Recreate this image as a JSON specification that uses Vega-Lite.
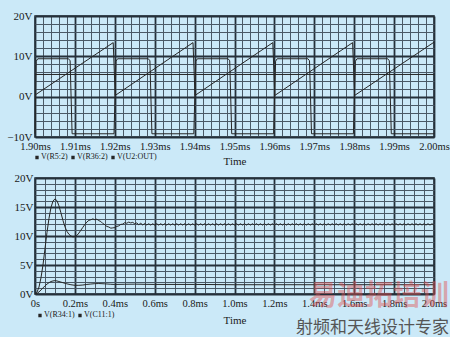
{
  "$schema": "https://vega.github.io/schema/vega-lite/v6.json",
  "background": "#cbe9f8",
  "padding": {"left": 6, "top": 9, "right": 0, "bottom": 0},
  "title": {"text": "易迪拓培训", "subtitle": "射频和天线设计专家", "orient": "bottom", "anchor": "end", "font": "Noto Sans CJK SC", "fontSize": 28, "fontWeight": "bold", "color": "rgba(225,80,80,0.45)", "subtitleFont": "Noto Sans CJK SC", "subtitleFontSize": 17, "subtitleColor": "#555555", "subtitlePadding": 9, "offset": -43, "dx": -1},
  "datasets": {
    "top": [
      {"t": 1.9, "v": 5.5, "s": "V(R5:2)"},
      {"t": 2.0, "v": 5.5, "s": "V(R5:2)"},
      {"t": 1.9, "v": 0.4, "s": "V(R36:2)"},
      {"t": 1.9196, "v": 13.4, "s": "V(R36:2)"},
      {"t": 1.9201, "v": 0.3, "s": "V(R36:2)"},
      {"t": 1.9396, "v": 13.4, "s": "V(R36:2)"},
      {"t": 1.9401, "v": 0.3, "s": "V(R36:2)"},
      {"t": 1.9596, "v": 13.4, "s": "V(R36:2)"},
      {"t": 1.9601, "v": 0.3, "s": "V(R36:2)"},
      {"t": 1.9796, "v": 13.4, "s": "V(R36:2)"},
      {"t": 1.9801, "v": 0.3, "s": "V(R36:2)"},
      {"t": 2.0, "v": 13.5, "s": "V(R36:2)"},
      {"t": 1.9, "v": -9.2, "s": "V(U2:OUT)"},
      {"t": 1.9003, "v": 8.8, "s": "V(U2:OUT)"},
      {"t": 1.9007, "v": 9.4, "s": "V(U2:OUT)"},
      {"t": 1.9084, "v": 9.4, "s": "V(U2:OUT)"},
      {"t": 1.9088, "v": 8.9, "s": "V(U2:OUT)"},
      {"t": 1.9093, "v": -9.2, "s": "V(U2:OUT)"},
      {"t": 1.9198, "v": -9.2, "s": "V(U2:OUT)"},
      {"t": 1.9203, "v": 8.8, "s": "V(U2:OUT)"},
      {"t": 1.9207, "v": 9.4, "s": "V(U2:OUT)"},
      {"t": 1.9284, "v": 9.4, "s": "V(U2:OUT)"},
      {"t": 1.9288, "v": 8.9, "s": "V(U2:OUT)"},
      {"t": 1.9293, "v": -9.2, "s": "V(U2:OUT)"},
      {"t": 1.9398, "v": -9.2, "s": "V(U2:OUT)"},
      {"t": 1.9403, "v": 8.8, "s": "V(U2:OUT)"},
      {"t": 1.9407, "v": 9.4, "s": "V(U2:OUT)"},
      {"t": 1.9484, "v": 9.4, "s": "V(U2:OUT)"},
      {"t": 1.9488, "v": 8.9, "s": "V(U2:OUT)"},
      {"t": 1.9493, "v": -9.2, "s": "V(U2:OUT)"},
      {"t": 1.9598, "v": -9.2, "s": "V(U2:OUT)"},
      {"t": 1.9603, "v": 8.8, "s": "V(U2:OUT)"},
      {"t": 1.9607, "v": 9.4, "s": "V(U2:OUT)"},
      {"t": 1.9684, "v": 9.4, "s": "V(U2:OUT)"},
      {"t": 1.9688, "v": 8.9, "s": "V(U2:OUT)"},
      {"t": 1.9693, "v": -9.2, "s": "V(U2:OUT)"},
      {"t": 1.9798, "v": -9.2, "s": "V(U2:OUT)"},
      {"t": 1.9803, "v": 8.8, "s": "V(U2:OUT)"},
      {"t": 1.9807, "v": 9.4, "s": "V(U2:OUT)"},
      {"t": 1.9884, "v": 9.4, "s": "V(U2:OUT)"},
      {"t": 1.9888, "v": 8.9, "s": "V(U2:OUT)"},
      {"t": 1.9893, "v": -9.2, "s": "V(U2:OUT)"},
      {"t": 2.0, "v": -9.2, "s": "V(U2:OUT)"}
    ],
    "bottom": [
      {"t": 0, "v": 0, "s": "V(R34:1)"},
      {"t": 0.01, "v": 0.3, "s": "V(R34:1)"},
      {"t": 0.02, "v": 1.2, "s": "V(R34:1)"},
      {"t": 0.03, "v": 2.8, "s": "V(R34:1)"},
      {"t": 0.04, "v": 5.0, "s": "V(R34:1)"},
      {"t": 0.05, "v": 7.8, "s": "V(R34:1)"},
      {"t": 0.06, "v": 10.6, "s": "V(R34:1)"},
      {"t": 0.07, "v": 13.0, "s": "V(R34:1)"},
      {"t": 0.08, "v": 14.9, "s": "V(R34:1)"},
      {"t": 0.09, "v": 16.0, "s": "V(R34:1)"},
      {"t": 0.1, "v": 16.4, "s": "V(R34:1)"},
      {"t": 0.11, "v": 16.1, "s": "V(R34:1)"},
      {"t": 0.12, "v": 15.2, "s": "V(R34:1)"},
      {"t": 0.13, "v": 14.0, "s": "V(R34:1)"},
      {"t": 0.14, "v": 12.7, "s": "V(R34:1)"},
      {"t": 0.15, "v": 11.6, "s": "V(R34:1)"},
      {"t": 0.16, "v": 10.8, "s": "V(R34:1)"},
      {"t": 0.17, "v": 10.3, "s": "V(R34:1)"},
      {"t": 0.18, "v": 10.0, "s": "V(R34:1)"},
      {"t": 0.19, "v": 9.85, "s": "V(R34:1)"},
      {"t": 0.2, "v": 9.9, "s": "V(R34:1)"},
      {"t": 0.21, "v": 10.1, "s": "V(R34:1)"},
      {"t": 0.22, "v": 10.5, "s": "V(R34:1)"},
      {"t": 0.23, "v": 11.0, "s": "V(R34:1)"},
      {"t": 0.24, "v": 11.5, "s": "V(R34:1)"},
      {"t": 0.25, "v": 12.0, "s": "V(R34:1)"},
      {"t": 0.26, "v": 12.4, "s": "V(R34:1)"},
      {"t": 0.27, "v": 12.7, "s": "V(R34:1)"},
      {"t": 0.28, "v": 12.8, "s": "V(R34:1)"},
      {"t": 0.29, "v": 12.95, "s": "V(R34:1)"},
      {"t": 0.3, "v": 12.8, "s": "V(R34:1)"},
      {"t": 0.31, "v": 12.9, "s": "V(R34:1)"},
      {"t": 0.32, "v": 12.65, "s": "V(R34:1)"},
      {"t": 0.33, "v": 12.5, "s": "V(R34:1)"},
      {"t": 0.34, "v": 12.15, "s": "V(R34:1)"},
      {"t": 0.35, "v": 11.95, "s": "V(R34:1)"},
      {"t": 0.36, "v": 11.65, "s": "V(R34:1)"},
      {"t": 0.37, "v": 11.55, "s": "V(R34:1)"},
      {"t": 0.38, "v": 11.35, "s": "V(R34:1)"},
      {"t": 0.39, "v": 11.4, "s": "V(R34:1)"},
      {"t": 0.4, "v": 11.45, "s": "V(R34:1)"},
      {"t": 0.41, "v": 11.65, "s": "V(R34:1)"},
      {"t": 0.42, "v": 11.75, "s": "V(R34:1)"},
      {"t": 0.43, "v": 12.0, "s": "V(R34:1)"},
      {"t": 0.44, "v": 12.05, "s": "V(R34:1)"},
      {"t": 0.45, "v": 12.3, "s": "V(R34:1)"},
      {"t": 0.46, "v": 12.2, "s": "V(R34:1)"},
      {"t": 0.47, "v": 12.4, "s": "V(R34:1)"},
      {"t": 0.48, "v": 12.25, "s": "V(R34:1)"},
      {"t": 0.49, "v": 12.35, "s": "V(R34:1)"},
      {"t": 0.5, "v": 12.1, "s": "V(R34:1)"},
      {"t": 0.51, "v": 12.25, "s": "V(R34:1)"},
      {"t": 0.52, "v": 11.95, "s": "V(R34:1)"},
      {"t": 0.53, "v": 12.2, "s": "V(R34:1)"},
      {"t": 0.54, "v": 11.9, "s": "V(R34:1)"},
      {"t": 0.55, "v": 12.15, "s": "V(R34:1)"},
      {"t": 0.56, "v": 11.9, "s": "V(R34:1)"},
      {"t": 0.57, "v": 12.12, "s": "V(R34:1)"},
      {"t": 0.58, "v": 11.88, "s": "V(R34:1)"},
      {"t": 0.59, "v": 12.12, "s": "V(R34:1)"},
      {"t": 0.6, "v": 11.88, "s": "V(R34:1)"},
      {"t": 0.61, "v": 12.12, "s": "V(R34:1)"},
      {"t": 0.62, "v": 11.88, "s": "V(R34:1)"},
      {"t": 0.63, "v": 12.12, "s": "V(R34:1)"},
      {"t": 0.64, "v": 11.88, "s": "V(R34:1)"},
      {"t": 0.65, "v": 12.12, "s": "V(R34:1)"},
      {"t": 0.66, "v": 11.88, "s": "V(R34:1)"},
      {"t": 0.67, "v": 12.12, "s": "V(R34:1)"},
      {"t": 0.68, "v": 11.88, "s": "V(R34:1)"},
      {"t": 0.69, "v": 12.12, "s": "V(R34:1)"},
      {"t": 0.7, "v": 11.88, "s": "V(R34:1)"},
      {"t": 0.71, "v": 12.12, "s": "V(R34:1)"},
      {"t": 0.72, "v": 11.88, "s": "V(R34:1)"},
      {"t": 0.73, "v": 12.12, "s": "V(R34:1)"},
      {"t": 0.74, "v": 11.88, "s": "V(R34:1)"},
      {"t": 0.75, "v": 12.12, "s": "V(R34:1)"},
      {"t": 0.76, "v": 11.88, "s": "V(R34:1)"},
      {"t": 0.77, "v": 12.12, "s": "V(R34:1)"},
      {"t": 0.78, "v": 11.88, "s": "V(R34:1)"},
      {"t": 0.79, "v": 12.12, "s": "V(R34:1)"},
      {"t": 0.8, "v": 11.88, "s": "V(R34:1)"},
      {"t": 0.81, "v": 12.12, "s": "V(R34:1)"},
      {"t": 0.82, "v": 11.88, "s": "V(R34:1)"},
      {"t": 0.83, "v": 12.12, "s": "V(R34:1)"},
      {"t": 0.84, "v": 11.88, "s": "V(R34:1)"},
      {"t": 0.85, "v": 12.12, "s": "V(R34:1)"},
      {"t": 0.86, "v": 11.88, "s": "V(R34:1)"},
      {"t": 0.87, "v": 12.12, "s": "V(R34:1)"},
      {"t": 0.88, "v": 11.88, "s": "V(R34:1)"},
      {"t": 0.89, "v": 12.12, "s": "V(R34:1)"},
      {"t": 0.9, "v": 11.88, "s": "V(R34:1)"},
      {"t": 0.91, "v": 12.12, "s": "V(R34:1)"},
      {"t": 0.92, "v": 11.88, "s": "V(R34:1)"},
      {"t": 0.93, "v": 12.12, "s": "V(R34:1)"},
      {"t": 0.94, "v": 11.88, "s": "V(R34:1)"},
      {"t": 0.95, "v": 12.12, "s": "V(R34:1)"},
      {"t": 0.96, "v": 11.88, "s": "V(R34:1)"},
      {"t": 0.97, "v": 12.12, "s": "V(R34:1)"},
      {"t": 0.98, "v": 11.88, "s": "V(R34:1)"},
      {"t": 0.99, "v": 12.12, "s": "V(R34:1)"},
      {"t": 1.0, "v": 11.88, "s": "V(R34:1)"},
      {"t": 1.01, "v": 12.12, "s": "V(R34:1)"},
      {"t": 1.02, "v": 11.88, "s": "V(R34:1)"},
      {"t": 1.03, "v": 12.12, "s": "V(R34:1)"},
      {"t": 1.04, "v": 11.88, "s": "V(R34:1)"},
      {"t": 1.05, "v": 12.12, "s": "V(R34:1)"},
      {"t": 1.06, "v": 11.88, "s": "V(R34:1)"},
      {"t": 1.07, "v": 12.12, "s": "V(R34:1)"},
      {"t": 1.08, "v": 11.88, "s": "V(R34:1)"},
      {"t": 1.09, "v": 12.12, "s": "V(R34:1)"},
      {"t": 1.1, "v": 11.88, "s": "V(R34:1)"},
      {"t": 1.11, "v": 12.12, "s": "V(R34:1)"},
      {"t": 1.12, "v": 11.88, "s": "V(R34:1)"},
      {"t": 1.13, "v": 12.12, "s": "V(R34:1)"},
      {"t": 1.14, "v": 11.88, "s": "V(R34:1)"},
      {"t": 1.15, "v": 12.12, "s": "V(R34:1)"},
      {"t": 1.16, "v": 11.88, "s": "V(R34:1)"},
      {"t": 1.17, "v": 12.12, "s": "V(R34:1)"},
      {"t": 1.18, "v": 11.88, "s": "V(R34:1)"},
      {"t": 1.19, "v": 12.12, "s": "V(R34:1)"},
      {"t": 1.2, "v": 11.88, "s": "V(R34:1)"},
      {"t": 1.21, "v": 12.12, "s": "V(R34:1)"},
      {"t": 1.22, "v": 11.88, "s": "V(R34:1)"},
      {"t": 1.23, "v": 12.12, "s": "V(R34:1)"},
      {"t": 1.24, "v": 11.88, "s": "V(R34:1)"},
      {"t": 1.25, "v": 12.12, "s": "V(R34:1)"},
      {"t": 1.26, "v": 11.88, "s": "V(R34:1)"},
      {"t": 1.27, "v": 12.12, "s": "V(R34:1)"},
      {"t": 1.28, "v": 11.88, "s": "V(R34:1)"},
      {"t": 1.29, "v": 12.12, "s": "V(R34:1)"},
      {"t": 1.3, "v": 11.88, "s": "V(R34:1)"},
      {"t": 1.31, "v": 12.12, "s": "V(R34:1)"},
      {"t": 1.32, "v": 11.88, "s": "V(R34:1)"},
      {"t": 1.33, "v": 12.12, "s": "V(R34:1)"},
      {"t": 1.34, "v": 11.88, "s": "V(R34:1)"},
      {"t": 1.35, "v": 12.12, "s": "V(R34:1)"},
      {"t": 1.36, "v": 11.88, "s": "V(R34:1)"},
      {"t": 1.37, "v": 12.12, "s": "V(R34:1)"},
      {"t": 1.38, "v": 11.88, "s": "V(R34:1)"},
      {"t": 1.39, "v": 12.12, "s": "V(R34:1)"},
      {"t": 1.4, "v": 11.88, "s": "V(R34:1)"},
      {"t": 1.41, "v": 12.12, "s": "V(R34:1)"},
      {"t": 1.42, "v": 11.88, "s": "V(R34:1)"},
      {"t": 1.43, "v": 12.12, "s": "V(R34:1)"},
      {"t": 1.44, "v": 11.88, "s": "V(R34:1)"},
      {"t": 1.45, "v": 12.12, "s": "V(R34:1)"},
      {"t": 1.46, "v": 11.88, "s": "V(R34:1)"},
      {"t": 1.47, "v": 12.12, "s": "V(R34:1)"},
      {"t": 1.48, "v": 11.88, "s": "V(R34:1)"},
      {"t": 1.49, "v": 12.12, "s": "V(R34:1)"},
      {"t": 1.5, "v": 11.88, "s": "V(R34:1)"},
      {"t": 1.51, "v": 12.12, "s": "V(R34:1)"},
      {"t": 1.52, "v": 11.88, "s": "V(R34:1)"},
      {"t": 1.53, "v": 12.12, "s": "V(R34:1)"},
      {"t": 1.54, "v": 11.88, "s": "V(R34:1)"},
      {"t": 1.55, "v": 12.12, "s": "V(R34:1)"},
      {"t": 1.56, "v": 11.88, "s": "V(R34:1)"},
      {"t": 1.57, "v": 12.12, "s": "V(R34:1)"},
      {"t": 1.58, "v": 11.88, "s": "V(R34:1)"},
      {"t": 1.59, "v": 12.12, "s": "V(R34:1)"},
      {"t": 1.6, "v": 11.88, "s": "V(R34:1)"},
      {"t": 1.61, "v": 12.12, "s": "V(R34:1)"},
      {"t": 1.62, "v": 11.88, "s": "V(R34:1)"},
      {"t": 1.63, "v": 12.12, "s": "V(R34:1)"},
      {"t": 1.64, "v": 11.88, "s": "V(R34:1)"},
      {"t": 1.65, "v": 12.12, "s": "V(R34:1)"},
      {"t": 1.66, "v": 11.88, "s": "V(R34:1)"},
      {"t": 1.67, "v": 12.12, "s": "V(R34:1)"},
      {"t": 1.68, "v": 11.88, "s": "V(R34:1)"},
      {"t": 1.69, "v": 12.12, "s": "V(R34:1)"},
      {"t": 1.7, "v": 11.88, "s": "V(R34:1)"},
      {"t": 1.71, "v": 12.12, "s": "V(R34:1)"},
      {"t": 1.72, "v": 11.88, "s": "V(R34:1)"},
      {"t": 1.73, "v": 12.12, "s": "V(R34:1)"},
      {"t": 1.74, "v": 11.88, "s": "V(R34:1)"},
      {"t": 1.75, "v": 12.12, "s": "V(R34:1)"},
      {"t": 1.76, "v": 11.88, "s": "V(R34:1)"},
      {"t": 1.77, "v": 12.12, "s": "V(R34:1)"},
      {"t": 1.78, "v": 11.88, "s": "V(R34:1)"},
      {"t": 1.79, "v": 12.12, "s": "V(R34:1)"},
      {"t": 1.8, "v": 11.88, "s": "V(R34:1)"},
      {"t": 1.81, "v": 12.12, "s": "V(R34:1)"},
      {"t": 1.82, "v": 11.88, "s": "V(R34:1)"},
      {"t": 1.83, "v": 12.12, "s": "V(R34:1)"},
      {"t": 1.84, "v": 11.88, "s": "V(R34:1)"},
      {"t": 1.85, "v": 12.12, "s": "V(R34:1)"},
      {"t": 1.86, "v": 11.88, "s": "V(R34:1)"},
      {"t": 1.87, "v": 12.12, "s": "V(R34:1)"},
      {"t": 1.88, "v": 11.88, "s": "V(R34:1)"},
      {"t": 1.89, "v": 12.12, "s": "V(R34:1)"},
      {"t": 1.9, "v": 11.88, "s": "V(R34:1)"},
      {"t": 1.91, "v": 12.12, "s": "V(R34:1)"},
      {"t": 1.92, "v": 11.88, "s": "V(R34:1)"},
      {"t": 1.93, "v": 12.12, "s": "V(R34:1)"},
      {"t": 1.94, "v": 11.88, "s": "V(R34:1)"},
      {"t": 1.95, "v": 12.12, "s": "V(R34:1)"},
      {"t": 1.96, "v": 11.88, "s": "V(R34:1)"},
      {"t": 1.97, "v": 12.12, "s": "V(R34:1)"},
      {"t": 1.98, "v": 11.88, "s": "V(R34:1)"},
      {"t": 1.99, "v": 12.12, "s": "V(R34:1)"},
      {"t": 2.0, "v": 11.88, "s": "V(R34:1)"},
      {"t": 0, "v": 0, "s": "V(C11:1)"},
      {"t": 0.01, "v": 0.1, "s": "V(C11:1)"},
      {"t": 0.02, "v": 0.35, "s": "V(C11:1)"},
      {"t": 0.03, "v": 0.7, "s": "V(C11:1)"},
      {"t": 0.04, "v": 1.05, "s": "V(C11:1)"},
      {"t": 0.05, "v": 1.4, "s": "V(C11:1)"},
      {"t": 0.06, "v": 1.7, "s": "V(C11:1)"},
      {"t": 0.07, "v": 1.95, "s": "V(C11:1)"},
      {"t": 0.08, "v": 2.15, "s": "V(C11:1)"},
      {"t": 0.09, "v": 2.25, "s": "V(C11:1)"},
      {"t": 0.1, "v": 2.3, "s": "V(C11:1)"},
      {"t": 0.11, "v": 2.25, "s": "V(C11:1)"},
      {"t": 0.12, "v": 2.15, "s": "V(C11:1)"},
      {"t": 0.14, "v": 1.95, "s": "V(C11:1)"},
      {"t": 0.16, "v": 1.75, "s": "V(C11:1)"},
      {"t": 0.18, "v": 1.6, "s": "V(C11:1)"},
      {"t": 0.2, "v": 1.5, "s": "V(C11:1)"},
      {"t": 0.22, "v": 1.5, "s": "V(C11:1)"},
      {"t": 0.24, "v": 1.55, "s": "V(C11:1)"},
      {"t": 0.26, "v": 1.65, "s": "V(C11:1)"},
      {"t": 0.28, "v": 1.72, "s": "V(C11:1)"},
      {"t": 0.3, "v": 1.78, "s": "V(C11:1)"},
      {"t": 0.32, "v": 1.8, "s": "V(C11:1)"},
      {"t": 0.35, "v": 1.75, "s": "V(C11:1)"},
      {"t": 0.38, "v": 1.68, "s": "V(C11:1)"},
      {"t": 0.4, "v": 1.65, "s": "V(C11:1)"},
      {"t": 0.45, "v": 1.68, "s": "V(C11:1)"},
      {"t": 0.5, "v": 1.7, "s": "V(C11:1)"},
      {"t": 0.6, "v": 1.65, "s": "V(C11:1)"},
      {"t": 0.8, "v": 1.65, "s": "V(C11:1)"},
      {"t": 1.0, "v": 1.6, "s": "V(C11:1)"},
      {"t": 1.5, "v": 1.6, "s": "V(C11:1)"},
      {"t": 2.0, "v": 1.6, "s": "V(C11:1)"}
    ]
  },
  "vconcat": [
    {
      "width": 399,
      "height": 121,
      "data": {"name": "top"},
      "layer": [
        {
          "mark": {"type": "line", "opacity": 0},
          "encoding": {
            "x": {"field": "t", "type": "quantitative", "scale": {"domain": [1.9, 2.0], "nice": false, "zero": false},
              "axis": {"orient": "bottom", "values": [1.9,1.902,1.904,1.906,1.908,1.91,1.912,1.914,1.916,1.918,1.92,1.922,1.924,1.926,1.928,1.93,1.932,1.934,1.936,1.938,1.94,1.942,1.944,1.946,1.948,1.95,1.952,1.954,1.956,1.958,1.96,1.962,1.964,1.966,1.968,1.97,1.972,1.974,1.976,1.978,1.98,1.982,1.984,1.986,1.988,1.99,1.992,1.994,1.996,1.998,2.0], "labels": false, "title": null, "grid": true, "gridColor": "#4a5966", "gridWidth": 1}},
            "y": {"field": "v", "type": "quantitative", "scale": {"domain": [-10, 20], "nice": false, "zero": false},
              "axis": {"orient": "left", "values": [-10,-8,-6,-4,-2,0,2,4,6,8,10,12,14,16,18,20], "labels": false, "title": null, "grid": true, "gridColor": "#4a5966", "gridWidth": 1}},
            "detail": {"field": "s"}
          }
        },
        {
          "mark": {"type": "line", "strokeWidth": 1},
          "encoding": {
            "x": {"field": "t", "type": "quantitative",
              "axis": {"orient": "bottom", "values": [1.9,1.91,1.92,1.93,1.94,1.95,1.96,1.97,1.98,1.99,2.0], "labelExpr": "format(datum.value, '.2f') + 'ms'", "title": "Time", "grid": true, "gridColor": "#25303a", "gridWidth": 1.8, "labelFontSize": 10.5, "labelPadding": 4, "titlePadding": 4, "titleFontSize": 11}},
            "y": {"field": "v", "type": "quantitative",
              "axis": {"orient": "left", "values": [-10, 0, 10, 20], "labelExpr": "format(datum.value, 'd') + 'V'", "title": null, "grid": true, "gridColor": "#25303a", "gridWidth": 1.8, "labelFontSize": 11, "labelPadding": 3}},
            "color": {"field": "s", "type": "nominal",
              "scale": {"domain": ["V(R5:2)", "V(R36:2)", "V(U2:OUT)"], "range": ["#262626", "#262626", "#262626"]},
              "legend": {"title": null, "orient": "none", "legendX": -2, "legendY": 137, "direction": "horizontal", "columns": 3}}
          }
        }
      ],
      "resolve": {"axis": {"x": "independent", "y": "independent"}}
    },
    {
      "width": 399,
      "height": 116,
      "data": {"name": "bottom"},
      "layer": [
        {
          "mark": {"type": "line", "opacity": 0},
          "encoding": {
            "x": {"field": "t", "type": "quantitative", "scale": {"domain": [0, 2], "nice": false, "zero": false},
              "axis": {"orient": "bottom", "values": [0,0.05,0.1,0.15,0.2,0.25,0.3,0.35,0.4,0.45,0.5,0.55,0.6,0.65,0.7,0.75,0.8,0.85,0.9,0.95,1,1.05,1.1,1.15,1.2,1.25,1.3,1.35,1.4,1.45,1.5,1.55,1.6,1.65,1.7,1.75,1.8,1.85,1.9,1.95,2], "labels": false, "title": null, "grid": true, "gridColor": "#4a5966", "gridWidth": 1}},
            "y": {"field": "v", "type": "quantitative", "scale": {"domain": [0, 20], "nice": false},
              "axis": {"orient": "left", "values": [0,1,2,3,4,5,6,7,8,9,10,11,12,13,14,15,16,17,18,19,20], "labels": false, "title": null, "grid": true, "gridColor": "#4a5966", "gridWidth": 1}},
            "detail": {"field": "s"}
          }
        },
        {
          "mark": {"type": "line", "strokeWidth": 1},
          "encoding": {
            "x": {"field": "t", "type": "quantitative",
              "axis": {"orient": "bottom", "values": [0,0.2,0.4,0.6,0.8,1,1.2,1.4,1.6,1.8,2], "labelExpr": "datum.value == 0 ? '0s' : format(datum.value, '.1f') + 'ms'", "title": "Time", "grid": true, "gridColor": "#25303a", "gridWidth": 1.8, "labelFontSize": 10.5, "labelPadding": 4, "titlePadding": 6, "titleFontSize": 11}},
            "y": {"field": "v", "type": "quantitative",
              "axis": {"orient": "left", "values": [0, 5, 10, 15, 20], "labelExpr": "format(datum.value, 'd') + 'V'", "title": null, "grid": true, "gridColor": "#25303a", "gridWidth": 1.8, "labelFontSize": 11, "labelPadding": 2}},
            "color": {"field": "s", "type": "nominal",
              "scale": {"domain": ["V(R34:1)", "V(C11:1)"], "range": ["#262626", "#262626"]},
              "legend": {"title": null, "orient": "none", "legendX": 1, "legendY": 133, "direction": "horizontal", "columns": 2}}
          }
        }
      ],
      "resolve": {"axis": {"x": "independent", "y": "independent"}}
    }
  ],
  "spacing": 41,
  "bounds": "flush",
  "resolve": {"scale": {"color": "independent"}, "legend": {"color": "independent"}},
  "config": {
    "view": {"fill": "#cbe9f8", "stroke": "#1f2a33", "strokeWidth": 1.5},
    "font": "Liberation Serif",
    "axis": {"labelFont": "Liberation Serif", "titleFont": "Liberation Serif", "labelColor": "#1a1a1a", "titleColor": "#1a1a1a", "titleFontWeight": "normal", "domain": false, "ticks": false, "labelFlush": false, "labelOverlap": false},
    "legend": {"symbolType": "square", "symbolSize": 3, "symbolStrokeWidth": 1.6, "labelFont": "Liberation Serif", "labelFontSize": 8, "labelColor": "#1a1a1a", "columnPadding": 0, "symbolOffset": 0, "labelOffset": 0, "padding": 0, "rowPadding": 0}
  }
}
